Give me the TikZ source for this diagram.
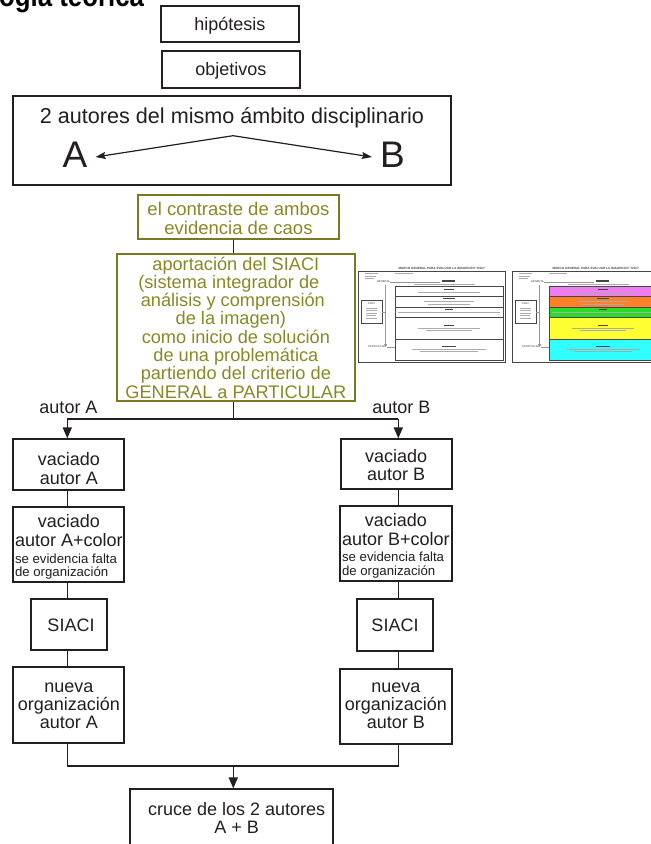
\documentclass[tikz,border=0pt]{standalone}
\usepackage{fontspec}
\usepackage{graphicx}
\setmainfont{Liberation Sans}
\usetikzlibrary{arrows.meta}
\definecolor{ink}{RGB}{35,31,32}
\definecolor{olvtext}{RGB}{138,136,38}
\definecolor{olvline}{RGB}{122,120,32}
\definecolor{tdark}{RGB}{70,70,70}
\definecolor{tgray}{RGB}{150,150,150}
\definecolor{tviolet}{RGB}{240,125,240}
\definecolor{torange}{RGB}{255,128,40}
\definecolor{tgreen}{RGB}{40,220,40}
\definecolor{tyellow}{RGB}{255,255,50}
\definecolor{tcyan}{RGB}{50,255,255}
\newcommand\setfs[2]{\fontsize{#1}{#2}\selectfont}
\newcommand\mlc[1]{\vtop{\halign{\hfil##\hfil\cr#1\crcr}}}
\newcommand\thumbnail[7]{%
\begin{scope}[shift={(#1,271)}]
  \draw[tdark, line width=0.8pt] (0,0) rectangle (147,91);
  \node[tinytxt, font=\bfseries\setfs{3.1}{3.1}] (#7title) at (84,-3) {MARCO GENERAL PARA EVALUAR LA IMAGEN EN “USO”};
  \draw[ttxt] (37,2.7) -- (55,2.7);
  \draw[ttxt] (7,2.7) -- (20,2.7) (7,4.8) -- (18,4.8) (7,6.9) -- (16,6.9);
  \node[tinytxt] (#7gen) at (25.5,11) {GENERAL};
  \draw[tgray, line width=0.6pt] (32,11) -- (82,11);
  \draw[tdark, line width=1.3pt] (84,10) -- (97,10);
  \draw[ttxt] (56,13) -- (117,13);
  \draw[tgray, line width=1.2pt, -{Triangle[length=3pt,width=3pt]}] (27.7,13.7) -- (27.7,76);
  \node[tinytxt] (#7par) at (19,76) {PARTICULAR};
  \draw[tgray, line width=0.6pt] (29,76) -- (37,76);
  \draw[tdark, line width=0.8pt, fill=white] (3,29.3) rectangle (24.3,52.7);
  \node[tinytxt] (#7siaci) at (13.6,33) {SIACI};
  \draw[ttxt] (8,37) -- (19,37) (8,39.5) -- (19,39.5) (8,42) -- (19,42) (8,44.5) -- (18,44.5) (8,47) -- (19,47);
  \draw[tgray, line width=0.6pt] (24.3,41) -- (27.7,41);
  \draw[tdark, line width=0.6pt, fill=#2] (37,15) rectangle (145,25);
  \draw[tdark, line width=0.6pt, fill=#3] (37,25) rectangle (145,36);
  \draw[tdark, line width=0.6pt, fill=#4] (37,36) rectangle (145,46);
  \draw[tdark, line width=0.6pt, fill=#5] (37,46) rectangle (145,68);
  \draw[tdark, line width=0.6pt, fill=#6] (37,68) rectangle (145,89);
  \draw[ttitle] (86,18) -- (96,18);  \draw[ttxt] (60,21.5) -- (122,21.5);
  \draw[ttitle] (85,27.5) -- (97,27.5); \draw[ttxt] (66,30.5) -- (116,30.5) (70,33) -- (112,33);
  \draw[ttitle] (87,38.5) -- (95,38.5); \draw[ttxt] (40,41.5) -- (142,41.5);
  \draw[ttitle] (86,54) -- (96,54); \draw[ttxt] (60,57) -- (122,57) (68,59.5) -- (114,59.5);
  \draw[ttitle] (84,75) -- (98,75); \draw[ttxt] (54,78) -- (128,78) (62,80.5) -- (120,80.5);
\end{scope}}
\begin{document}
\begin{tikzpicture}[x=1pt,y=-1pt,
  bx/.style n args={3}{minimum width=#1pt, text height=#2pt, text depth=#3pt},
  blk/.style={draw=ink, line width=1.8pt, text=ink, inner sep=0pt, anchor=base, font=\setfs{18}{19}},
  obx/.style={draw=olvline, line width=2.2pt, text=olvtext, inner sep=0pt, anchor=base},
  letter/.style={text=ink, inner xsep=8pt, inner ysep=0pt, anchor=base, font=\setfs{37}{37}, text height=26.5pt, text depth=6.5pt},
  lbl/.style={text=ink, inner sep=0pt, anchor=base, font=\setfs{18}{19}},
  conn/.style={draw=ink, line width=1.5pt},
  arr/.style={conn, -{Triangle[length=11pt,width=9pt]}},
  thinarr/.style={draw=ink, line width=1.2pt, -{Stealth[length=10pt,width=7pt,inset=1.5pt]}},
  tinytxt/.style={text=tdark, inner sep=0pt, font=\setfs{2.8}{2.8}},
  ttxt/.style={draw=tgray!80, line width=0.55pt},
  ttitle/.style={draw=tdark, line width=0.9pt}]
\useasboundingbox (0,0) rectangle (651,844);
\clip (0,0) rectangle (651,844);
\fill[white] (0,0) rectangle (651,844);

% title (cut by the top edge)
\node[anchor=base west, inner sep=0pt, text=black, font=\bfseries\setfs{30}{30}] (title) at (-1,6.7) {\scalebox{0.86}[1]{ogía teórica}};

% top boxes
\node[blk, bx={138.3}{24.3}{12.3}] (hip) at (229.85,30) {hipótesis};
\node[blk, bx={138.3}{24}{13.3}] (obj) at (230.85,75) {objetivos};
\node[blk, bx={437.4}{26.7}{62}, font=\setfs{21.6}{24}] (big) at (232,123) {2 autores del mismo ámbito disciplinario};
\node[letter] (A) at (75,167) {A};
\node[letter] (B) at (392.5,167) {B};
\coordinate (peak) at (233,135.7);
\draw[thinarr] (peak) -- (A.east);
\draw[thinarr] (peak) -- (B.west);

% olive boxes
\node[obx, bx={201.6}{20}{24.3}, font=\setfs{18.5}{19.3}] (o1) at (238.5,215) {\mlc{el contraste de ambos\cr evidencia de caos}};
\node[obx, bx={238.3}{16}{131}, font=\setfs{18.2}{18.33}] (o2) at (235.85,270) {\mlc{aportación del SIACI\cr
(sistema integrador de\hspace*{14pt}\cr
análisis y comprensión\hspace*{6pt}\cr
de la imagen)\hspace*{10pt}\cr
como inicio de solución\cr
de una problemática\cr
partiendo del criterio de\cr
GENERAL a PARTICULAR}};

% thumbnails
\thumbnail{358}{white}{white}{white}{white}{white}{tl}
\thumbnail{512}{tviolet}{torange}{tgreen}{tyellow}{tcyan}{tr}

% labels
\node[lbl] (la) at (68.5,413.3) {autor A};
\node[lbl] (lb) at (401.3,413.3) {autor B};

% left column
\node[blk, bx={111}{25.7}{25}] (vA) at (68.8,465) {\mlc{vaciado\cr autor A}};
\node[blk, bx={111}{21}{54.6}] (vcA) at (68.8,527.7) {\mlc{vaciado\cr autor A+color\cr\noalign{\vskip-2.5pt}
\omit\setfs{13.2}{12}se evidencia falta\hfil\cr\noalign{\vskip-5.8pt}
\omit\setfs{13.2}{12}de organización\hfil}};
\node[blk, bx={76.6}{32.7}{18.3}] (sA) at (69,631.7) {\hspace*{4pt}SIACI};
\node[blk, bx={111}{25.4}{50}, font=\setfs{18}{17.8}] (nA) at (68.8,692.7) {\mlc{nueva\cr organización\cr autor A}};

% right column
\node[blk, bx={111}{23.4}{26.3}, font=\setfs{18}{18}] (vB) at (396.2,462.7) {\mlc{vaciado\cr autor B}};
\node[blk, bx={111.7}{20}{55}] (vcB) at (395.85,526) {\mlc{vaciado\cr autor B+color\cr\noalign{\vskip-2.5pt}
\omit\setfs{13.2}{12}se evidencia falta\hfil\cr\noalign{\vskip-5.5pt}
\omit\setfs{13.2}{12}de organización\hfil}};
\node[blk, bx={76.6}{32.4}{19}] (sB) at (395,631.7) {SIACI};
\node[blk, bx={111.7}{23.7}{51.3}, font=\setfs{18}{17.8}] (nB) at (395.85,692.7) {\mlc{nueva\cr organización\cr autor B}};

% final box
\node[blk, bx={203.3}{25.7}{50}, font=\setfs{18}{18.3}] (cr) at (231.65,815) {\hspace*{10pt}\mlc{cruce de los 2 autores\cr A + B}};

% connectors
\coordinate (midx) at (233.3,0);
\coordinate (colL) at (67.3,0);
\coordinate (colR) at (398.3,0);
\coordinate (split) at (233.3,419);
\coordinate (merge) at (233.3,766);
\draw[conn] (o1.south -| midx) -- (o2.north -| midx);
\draw[conn] (o2.south -| midx) -- (split);
\draw[conn] (split -| colL) -- (split -| colR);
\draw[arr] (split -| colL) -- (vA.north -| colL);
\draw[arr] (split -| colR) -- (vB.north -| colR);
\draw[conn] (vA.south -| colL) -- (vcA.north -| colL);
\draw[conn] (vcA.south -| colL) -- (sA.north -| colL);
\draw[conn] (sA.south -| colL) -- (nA.north -| colL);
\draw[conn] (vB.south -| colR) -- (vcB.north -| colR);
\draw[conn] (vcB.south -| colR) -- (sB.north -| colR);
\draw[conn] (sB.south -| colR) -- (nB.north -| colR);
\draw[conn] (nA.south -| colL) -- (merge -| colL) -- (merge -| colR) -- (nB.south -| colR);
\draw[arr] (merge) -- (cr.north -| merge);
\end{tikzpicture}
\end{document}
